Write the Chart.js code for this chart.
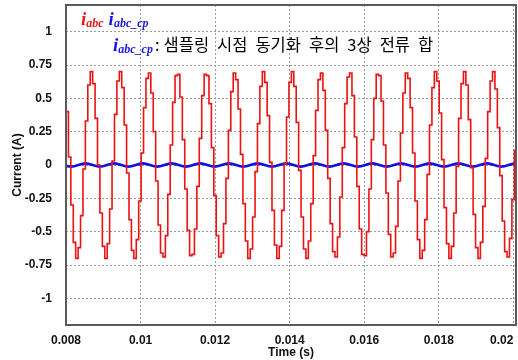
<!DOCTYPE html>
<html>
<head>
<meta charset="utf-8">
<title>3상 전류 합</title>
<script src="https://cdn.jsdelivr.net/npm/chart.js@4.4.0/dist/chart.umd.min.js"></script>
<style>
  html, body { margin: 0; padding: 0; background: #fff; }
  #wrap { position: relative; width: 518px; height: 360px; }
</style>
</head>
<body>
<div id="wrap"><canvas id="c" width="518" height="360"></canvas></div>
<script>
// sampled phase current, each value held until the next sample
const T0 = 0.008;
const TS = 0.000065;
const iAbc = [
  0.40, 0.06, -0.30, -0.58, -0.70, -0.62, -0.38, -0.03, 0.33, 0.60, 0.70, 0.61,
  0.35, 0.00, -0.36, -0.61, -0.70, -0.59, -0.33, 0.03, 0.38, 0.63, 0.70, 0.58,
  0.30, -0.06, -0.41, -0.64, -0.70, -0.56, -0.27, 0.09, 0.43, 0.65, 0.69, 0.54,
  0.25, -0.12, -0.45, -0.66, -0.69, -0.53, -0.22, 0.15, 0.47, 0.67, 0.68, 0.51,
  0.19, -0.18, -0.49, -0.68, -0.67, -0.48, -0.16, 0.20, 0.52, 0.68, 0.67, 0.46,
  0.13, -0.23, -0.53, -0.69, -0.66, -0.44, -0.10, 0.26, 0.55, 0.69, 0.64, 0.42,
  0.08, -0.29, -0.57, -0.70, -0.63, -0.39, -0.05, 0.31, 0.59, 0.70, 0.62, 0.37,
  0.02, -0.34, -0.60, -0.70, -0.61, -0.34, 0.01, 0.36, 0.62, 0.70, 0.59, 0.32,
  -0.04, -0.39, -0.63, -0.70, -0.57, -0.29, 0.07, 0.41, 0.64, 0.69, 0.56, 0.26,
  -0.10, -0.44, -0.65, -0.69, -0.54, -0.24, 0.13, 0.46, 0.66, 0.69, 0.52, 0.21,
  -0.16, -0.48, -0.67, -0.68, -0.50, -0.18, 0.19, 0.50, 0.68, 0.67, 0.48, 0.15,
  -0.21, -0.52, -0.69, -0.66, -0.46, -0.12, 0.24, 0.54, 0.69, 0.65, 0.43, 0.09,
  -0.27, -0.56, -0.70, -0.64, -0.41, -0.07, 0.30, 0.58, 0.70, 0.63, 0.39, 0.04,
  -0.32, -0.59, -0.70, -0.61, -0.36, -0.01, 0.35, 0.61, 0.70, 0.60, 0.34, -0.02,
  -0.37, -0.62, -0.70, -0.58, -0.31, 0.05, 0.40, 0.63, 0.70, 0.57, 0.28, -0.08,
  -0.42, -0.65, -0.69, -0.55, -0.26, 0.11, 0.44, 0.66, 0.69, 0.53, 0.23, -0.14
];

// sum of the three currents: peaks and troughs, one every half period
const B0 = 0.0077536;
const BH = 0.0003847;
const iAbcCp = [
  0.012, -0.012, 0.012, -0.012, 0.012, -0.012, 0.012, -0.012, 0.012, -0.012,
  0.012, -0.012, 0.012, -0.012, 0.012, -0.012, 0.012, -0.012, 0.012, -0.012,
  0.012, -0.012, 0.012, -0.012, 0.012, -0.012, 0.012, -0.012, 0.012, -0.012,
  0.012, -0.012, 0.012, -0.012, 0.012
];

const xTicks = [0.008, 0.01, 0.012, 0.014, 0.016, 0.018, 0.02];
const yTicks = [-1, -0.75, -0.5, -0.25, 0, 0.25, 0.5, 0.75, 1];
const noteWords = ['샘플링', '시점', '동기화', '후의', '3상', '전류', '합'];

const redPts = iAbc.map((v, i) => ({ x: T0 + i * TS, y: v }));
const bluePts = iAbcCp.map((v, i) => ({ x: B0 + i * BH, y: v }));

const tickFont = { family: 'Liberation Sans, Arial, sans-serif', size: 12, weight: 'bold' };

// frame round the plot and the note in the upper left
const frame = {
  id: 'frame',
  afterDraw(chart) {
    const ctx = chart.ctx;
    const a = chart.chartArea;
    ctx.save();
    ctx.strokeStyle = '#5a5a5a';
    ctx.lineWidth = 2;
    ctx.strokeRect(a.left, a.top, a.right - a.left, a.bottom - a.top);

    const main = 'bold italic 19px "Liberation Serif", serif';
    const sub = 'bold italic 12px "Liberation Serif", serif';
    const kr = '16.5px "Noto Sans CJK KR", sans-serif';
    const red = '#e81818';
    const blue = '#1818e0';
    function runs(x, y, list) {
      list.forEach(r => {
        ctx.font = r.f;
        ctx.fillStyle = r.c;
        ctx.fillText(r.t, x, y + (r.dy || 0));
        x += ctx.measureText(r.t).width + (r.gap || 0);
      });
      return x;
    }
    runs(81, 25, [
      { t: 'i', f: main, c: red },
      { t: 'abc', f: sub, c: red, dy: 2, gap: 5 },
      { t: 'i', f: main, c: blue },
      { t: 'abc_cp', f: sub, c: blue, dy: 2 }
    ]);
    let x = runs(113, 51, [
      { t: 'i', f: main, c: blue },
      { t: 'abc_cp', f: sub, c: blue, dy: 2, gap: 2 },
      { t: ':', f: kr, c: '#000', gap: 4 }
    ]);
    runs(x, 51, noteWords.map(w => ({ t: w, f: kr, c: '#000', gap: 8 })));
    ctx.restore();
  }
};

new Chart(document.getElementById('c'), {
  type: 'line',
  data: {
    datasets: [
      {
        label: 'i_abc',
        data: redPts,
        stepped: true,
        borderColor: '#ee1111',
        borderWidth: 1.6,
        pointRadius: 0,
        fill: false
      },
      {
        label: 'i_abc_cp',
        data: bluePts,
        cubicInterpolationMode: 'monotone',
        borderColor: '#1010e8',
        borderWidth: 2.6,
        pointRadius: 0,
        fill: false
      }
    ]
  },
  options: {
    responsive: false,
    animation: false,
    devicePixelRatio: 1,
    layout: { padding: { top: 5, right: 2, left: 0, bottom: 0 } },
    plugins: { legend: { display: false }, tooltip: { enabled: false } },
    scales: {
      x: {
        type: 'linear',
        min: 0.008,
        max: 0.02007,
        afterBuildTicks: s => { s.ticks = xTicks.map(v => ({ value: v })); },
        afterFit: s => { s.height = 35; s.paddingLeft = 0; s.paddingRight = 0; },
        ticks: {
          color: '#111', font: tickFont, padding: 8, maxRotation: 0,
          // last label sits left of its tick, as in the source plot
          callback: v => v === 0.02 ? '0.02\u2007\u2007\u2007 ' : String(v)
        },
        grid: { color: '#999999', lineWidth: 1, drawTicks: false },
        border: { display: false, dash: [2, 2] },
        title: { display: true, text: 'Time (s)', color: '#111', font: tickFont, padding: { top: 0, bottom: 0 } }
      },
      y: {
        min: -1.2,
        max: 1.2,
        afterBuildTicks: s => { s.ticks = yTicks.map(v => ({ value: v })); },
        afterFit: s => { s.width = 66; s.paddingTop = 0; s.paddingBottom = 0; },
        ticks: { color: '#111', font: tickFont, padding: 14, callback: v => String(v) },
        grid: { color: '#999999', lineWidth: 1, drawTicks: false },
        border: { display: false, dash: [2, 2] },
        title: { display: true, text: 'Current (A)', color: '#111', font: tickFont, padding: { top: 10, bottom: 0 } }
      }
    }
  },
  plugins: [frame]
});
</script>
</body>
</html>
